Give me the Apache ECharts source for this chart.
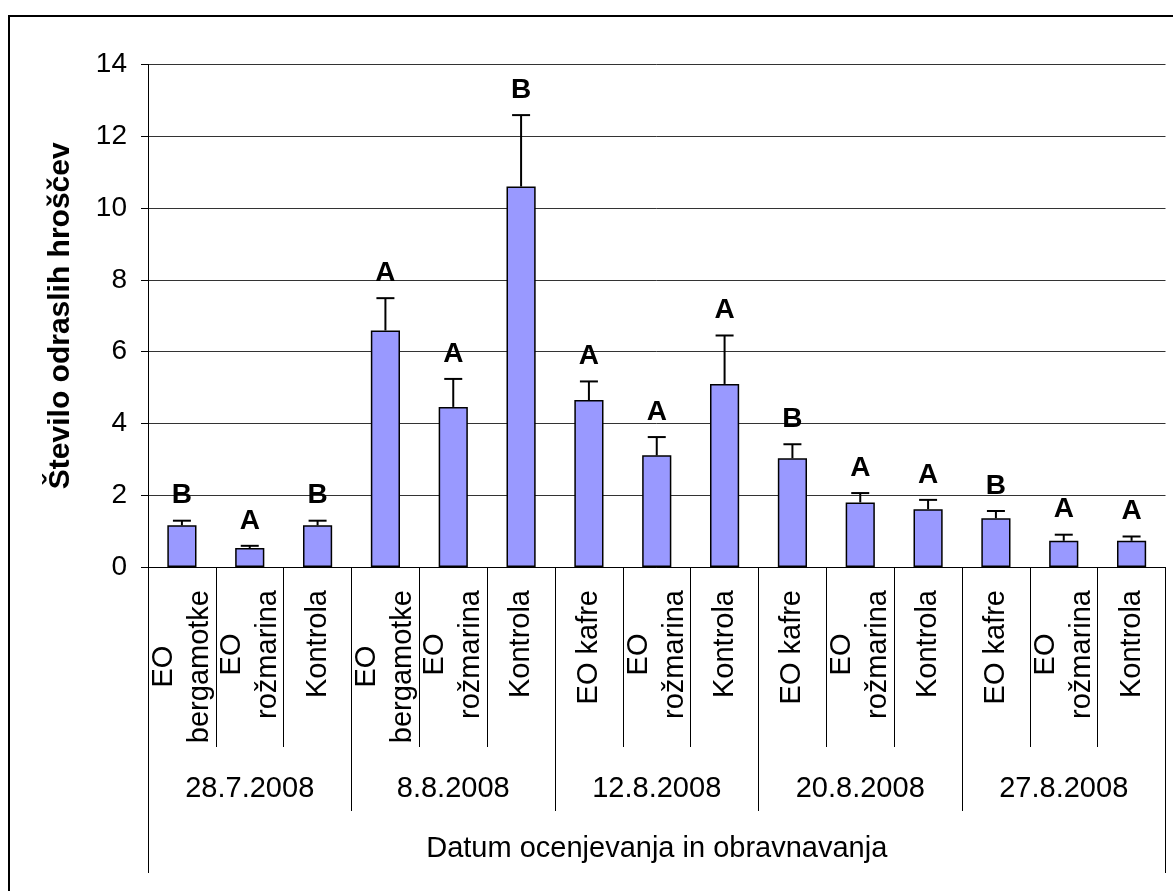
<!DOCTYPE html>
<html>
<head>
<meta charset="utf-8">
<title>Število odraslih hroščev</title>
<script src="https://cdn.jsdelivr.net/npm/echarts@6/dist/echarts.min.js"></script>
<style>
  html, body { margin: 0; padding: 0; background: #fff; }
  #chart { width: 1173px; height: 891px; }
</style>
</head>
<body>
<div id="chart"></div>
<script>
// Assessment dates (outer category level)
const dates = ['28.7.2008', '8.8.2008', '12.8.2008', '20.8.2008', '27.8.2008'];

// Treatments (inner category level), three per date
const treatments = [
  'EO\nbergamotke', 'EO\nrožmarina', 'Kontrola',
  'EO\nbergamotke', 'EO\nrožmarina', 'Kontrola',
  'EO kafre', 'EO\nrožmarina', 'Kontrola',
  'EO kafre', 'EO\nrožmarina', 'Kontrola',
  'EO kafre', 'EO\nrožmarina', 'Kontrola'
];

// Mean number of adult beetles
const means = [
  1.16, 0.53, 1.16,
  6.59, 4.46, 10.60,
  4.65, 3.11, 5.10,
  3.03, 1.80, 1.61,
  1.36, 0.73, 0.73
];

// Standard error (upper error bar)
const errors = [
  0.13, 0.06, 0.13,
  0.90, 0.78, 1.99,
  0.52, 0.51, 1.35,
  0.39, 0.26, 0.26,
  0.20, 0.17, 0.12
];

// Significance letters per date
const letters = [
  'B', 'A', 'B',
  'A', 'A', 'B',
  'A', 'A', 'A',
  'B', 'A', 'A',
  'B', 'A', 'A'
];

const yTicks = { min: 0, max: 14, step: 2 };
const xTitle = 'Datum ocenjevanja in obravnavanja';
const yTitle = 'Število odraslih hroščev';

const FONT = '"Liberation Sans", Arial, sans-serif';

const chart = echarts.init(document.getElementById('chart'), null, { renderer: 'canvas' });

const errData = means.map((m, i) => [i, m, errors[i], letters[i]]);

const option = {
  backgroundColor: '#ffffff',
  animation: false,
  textStyle: { fontFamily: FONT },
  graphic: [{
    type: 'rect',
    silent: true,
    shape: { x: 9, y: 16, width: 1200, height: 920 },
    style: { fill: null, stroke: '#000', lineWidth: 2 }
  }],
  grid: {
    left: 148, top: 64.5, right: 7.5, bottom: 324,
    containLabel: false,
    outerBoundsMode: 'none'
  },
  xAxis: [
    {
      type: 'category',
      data: treatments,
      position: 'bottom',
      axisLine: { show: true, lineStyle: { color: '#000', width: 1 } },
      axisTick: { show: true, interval: 0, length: 180, lineStyle: { color: '#000', width: 1 } },
      splitLine: { show: false },
      axisLabel: {
        interval: 0,
        rotate: 90,
        margin: 23,
        color: '#000',
        fontFamily: FONT,
        fontSize: 29,
        lineHeight: 36,
        formatter: v => v.split('\n').map(s => '{c|' + s + '}').join('\n'),
        rich: {
          c: { align: 'center', fontFamily: FONT, fontSize: 29, lineHeight: 36, color: '#000' }
        }
      }
    },
    {
      type: 'category',
      data: dates,
      position: 'bottom',
      axisLine: { show: false },
      axisTick: { show: true, interval: 0, length: 244, lineStyle: { color: '#000', width: 1 } },
      splitLine: { show: false },
      axisLabel: {
        interval: 0,
        margin: 207,
        color: '#000',
        fontFamily: FONT,
        fontSize: 29
      }
    },
    {
      type: 'category',
      data: [xTitle],
      position: 'bottom',
      axisLine: { show: false },
      axisTick: { show: true, interval: 0, length: 306, lineStyle: { color: '#000', width: 1 } },
      splitLine: { show: false },
      axisLabel: {
        interval: 0,
        margin: 267,
        color: '#000',
        fontFamily: FONT,
        fontSize: 29
      }
    }
  ],
  yAxis: {
    type: 'value',
    min: yTicks.min,
    max: yTicks.max,
    interval: yTicks.step,
    name: yTitle,
    nameLocation: 'middle',
    nameGap: 72,
    nameTextStyle: { fontFamily: FONT, fontSize: 30, fontWeight: 'bold', color: '#000' },
    axisLine: { show: true, lineStyle: { color: '#000', width: 1 } },
    axisTick: { show: true, length: 7, lineStyle: { color: '#000', width: 1 } },
    splitLine: { show: true, lineStyle: { color: '#333', width: 1 } },
    axisLabel: { margin: 21, color: '#000', fontFamily: FONT, fontSize: 28 }
  },
  series: [
    {
      type: 'bar',
      xAxisIndex: 0,
      yAxisIndex: 0,
      data: means,
      barWidth: '43%',
      itemStyle: { color: '#9999FF', borderColor: '#000', borderWidth: 1.5 },
      z: 2
    },
    {
      type: 'custom',
      xAxisIndex: 0,
      yAxisIndex: 0,
      data: errData,
      z: 3,
      renderItem: function (params, api) {
        const x = api.value(0);
        const m = api.value(1);
        const e = api.value(2);
        const base = api.coord([x, m]);
        const top = api.coord([x, m + e]);
        const half = 9;
        return {
          type: 'group',
          children: [
            {
              type: 'line',
              shape: { x1: base[0], y1: base[1], x2: top[0], y2: top[1] },
              style: { stroke: '#000', lineWidth: 2 }
            },
            {
              type: 'line',
              shape: { x1: top[0] - half, y1: top[1], x2: top[0] + half, y2: top[1] },
              style: { stroke: '#000', lineWidth: 2 }
            },
            {
              type: 'text',
              x: top[0],
              y: top[1] - 11,
              style: {
                text: letters[params.dataIndex],
                fontFamily: FONT,
                fontSize: 28,
                fontWeight: 'bold',
                fill: '#000',
                align: 'center',
                verticalAlign: 'bottom'
              }
            }
          ]
        };
      }
    }
  ]
};

chart.setOption(option);
</script>
</body>
</html>
